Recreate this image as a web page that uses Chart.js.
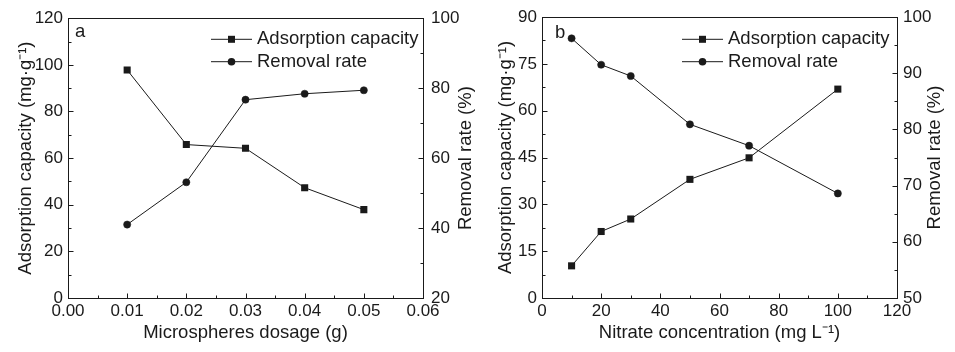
<!DOCTYPE html>
<html>
<head>
<meta charset="utf-8">
<script src="https://cdn.jsdelivr.net/npm/chart.js@4.4.1/dist/chart.umd.min.js"></script>
<style>
  body { margin: 0; background: #fff; width: 955px; height: 352px; overflow: hidden; }
  .panel { position: absolute; top: 0; height: 352px; }
</style>
</head>
<body>
<div class="panel" style="left:0;width:478px"><canvas id="chartA" width="478" height="352"></canvas></div>
<div class="panel" style="left:478px;width:477px"><canvas id="chartB" width="477" height="352"></canvas></div>
<script>
// panel a: microspheres dosage
const dosage = [0.01, 0.02, 0.03, 0.04, 0.05];
const capacityA = [97.8, 65.8, 64.2, 47.3, 37.9];
const removalA = [41.0, 53.1, 76.7, 78.4, 79.4];

// panel b: nitrate concentration
const nitrate = [10, 20, 30, 50, 70, 100];
const capacityB = [10.3, 21.3, 25.3, 38.0, 44.9, 66.9];
const removalB = [96.2, 91.5, 89.5, 80.9, 77.1, 68.6];

const seriesNames = ['Adsorption capacity', 'Removal rate'];

const FONT = '"Liberation Sans", Arial, sans-serif';
const INK = '#1a1a1a';
Chart.defaults.font.family = FONT;
Chart.defaults.color = INK;

const toPoints = (xs, ys) => xs.map((x, i) => ({ x: x, y: ys[i] }));

// frame, inward ticks, right title, panel letter and legend
const framePlugin = {
  id: 'frame',
  afterDraw(chart, args, opts) {
    const ctx = chart.ctx;
    const a = chart.chartArea;
    const px = v => Math.round(v) + 0.5;
    ctx.save();
    ctx.strokeStyle = INK;
    ctx.lineWidth = 1;
    ctx.strokeRect(px(a.left), px(a.top), Math.round(a.right) - Math.round(a.left), Math.round(a.bottom) - Math.round(a.top));

    const tickSet = scale => {
      const vals = scale.ticks.map(t => t.value);
      const minors = [];
      for (let i = 0; i < vals.length - 1; i++) minors.push((vals[i] + vals[i + 1]) / 2);
      return { vals, minors };
    };
    ctx.beginPath();
    ['x', 'y', 'y1'].forEach(id => {
      const s = chart.scales[id];
      const t = tickSet(s);
      const draw = (v, len) => {
        const p = px(s.getPixelForValue(v));
        if (id === 'x') { ctx.moveTo(p, px(a.bottom)); ctx.lineTo(p, px(a.bottom) - len); }
        else if (id === 'y') { ctx.moveTo(px(a.left), p); ctx.lineTo(px(a.left) + len, p); }
        else { ctx.moveTo(px(a.right), p); ctx.lineTo(px(a.right) - len, p); }
      };
      t.vals.forEach(v => draw(v, 5));
      t.minors.forEach(v => draw(v, 3));
    });
    ctx.stroke();

    // right axis title, reading bottom to top
    ctx.fillStyle = INK;
    ctx.font = '18.5px ' + FONT;
    ctx.textAlign = 'center';
    ctx.textBaseline = 'middle';
    ctx.save();
    ctx.translate(a.right + opts.rightTitleOffset, (a.top + a.bottom) / 2);
    ctx.rotate(-Math.PI / 2);
    ctx.fillText(opts.rightTitle, 0, 0);
    ctx.restore();

    // panel letter
    ctx.textAlign = 'left';
    ctx.fillText(opts.letter, opts.letterX, opts.letterY);

    // legend
    chart.data.datasets.forEach((ds, i) => {
      const y = opts.legendY + i * 22.4;
      const x0 = opts.legendX, x1 = opts.legendX + 41, xm = (x0 + x1) / 2;
      ctx.beginPath();
      ctx.moveTo(x0, y);
      ctx.lineTo(x1, y);
      ctx.stroke();
      ctx.beginPath();
      if (ds.pointStyle === 'rect') ctx.rect(xm - 3.5, y - 3.5, 7, 7);
      else ctx.arc(xm, y, 3.8, 0, Math.PI * 2);
      ctx.fill();
      ctx.fillText(ds.label, x1 + 5, y);
    });
    ctx.restore();
  }
};

function makePanel(canvasId, cfg) {
  return new Chart(document.getElementById(canvasId), {
    type: 'line',
    data: {
      datasets: [
        {
          label: seriesNames[0],
          data: toPoints(cfg.xs, cfg.capacity),
          yAxisID: 'y',
          borderColor: INK,
          backgroundColor: INK,
          borderWidth: 1,
          pointStyle: 'rect',
          pointRadius: 5,
          pointBorderWidth: 0,
          tension: 0
        },
        {
          label: seriesNames[1],
          data: toPoints(cfg.xs, cfg.removal),
          yAxisID: 'y1',
          borderColor: INK,
          backgroundColor: INK,
          borderWidth: 1,
          pointStyle: 'circle',
          pointRadius: 3.6,
          pointBorderWidth: 0.5,
          tension: 0
        }
      ]
    },
    options: {
      responsive: false,
      animation: false,
      layout: { padding: { top: 17, left: 0, right: 0, bottom: 0 } },
      plugins: {
        legend: { display: false },
        tooltip: { enabled: false },
        frame: cfg.frame
      },
      scales: {
        x: {
          type: 'linear',
          position: 'bottom',
          min: cfg.xMin, max: cfg.xMax,
          grid: { display: false, drawTicks: false },
          border: { display: false },
          ticks: { stepSize: cfg.xStep, padding: 3, color: INK, font: { size: 17 }, maxRotation: 0, callback: cfg.xFmt },
          title: { display: true, text: cfg.xTitle, color: INK, font: { size: 18.5 }, padding: { top: 0, bottom: 8 } },
          afterFit: s => { s.height = 54; }
        },
        y: {
          position: 'left',
          min: cfg.yMin, max: cfg.yMax,
          grid: { display: false, drawTicks: false },
          border: { display: false },
          ticks: { stepSize: cfg.yStep, padding: 5, color: INK, font: { size: 17 } },
          title: { display: true, text: 'Adsorption capacity (mg·g⁻¹)', color: INK, font: { size: 18.5 }, padding: { top: cfg.leftTitlePad, bottom: 0 } },
          afterFit: s => { s.width = cfg.leftWidth; }
        },
        y1: {
          position: 'right',
          min: cfg.y1Min, max: cfg.y1Max,
          grid: { display: false, drawTicks: false },
          border: { display: false },
          ticks: { stepSize: cfg.y1Step, padding: cfg.rightPad, color: INK, font: { size: 17 } },
          afterFit: s => { s.width = cfg.rightWidth; }
        }
      }
    },
    plugins: [framePlugin]
  });
}

makePanel('chartA', {
  xs: dosage, capacity: capacityA, removal: removalA,
  xMin: 0, xMax: 0.06, xStep: 0.01, xFmt: v => Number(v).toFixed(2),
  xTitle: 'Microspheres dosage (g)',
  yMin: 0, yMax: 120, yStep: 20,
  y1Min: 20, y1Max: 100, y1Step: 20,
  leftWidth: 68, rightWidth: 55, leftTitlePad: 15, rightPad: 8,
  frame: { rightTitle: 'Removal rate (%)', rightTitleOffset: 43, letter: 'a', letterX: 75, letterY: 32, legendX: 211, legendY: 39.3 }
});

makePanel('chartB', {
  xs: nitrate, capacity: capacityB, removal: removalB,
  xMin: 0, xMax: 120, xStep: 20, xFmt: v => String(v),
  xTitle: 'Nitrate concentration (mg L⁻¹)',
  yMin: 0, yMax: 90, yStep: 15,
  y1Min: 50, y1Max: 100, y1Step: 10,
  leftWidth: 64, rightWidth: 58, leftTitlePad: 17, rightPad: 6,
  frame: { rightTitle: 'Removal rate (%)', rightTitleOffset: 38, letter: 'b', letterX: 77, letterY: 33, legendX: 204, legendY: 39.3 }
});
</script>
</body>
</html>
